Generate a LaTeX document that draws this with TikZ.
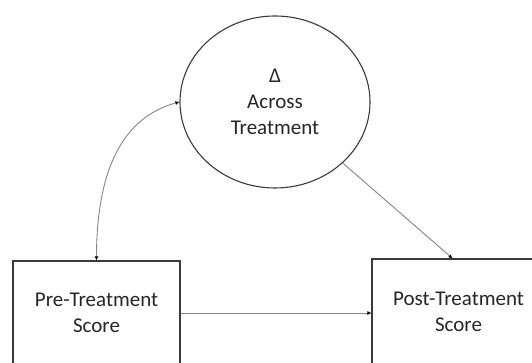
\documentclass[tikz,border=0pt]{standalone}
\usepackage{fontspec}
\setmainfont{Carlito}
\usetikzlibrary{arrows.meta,shapes.geometric}
\definecolor{edge}{HTML}{3A3A3A}
\definecolor{conn}{HTML}{858585}
\definecolor{txt}{HTML}{262626}
\tikzset{
  boxnode/.style={draw=edge,line width=1.1pt,rectangle,align=center,text=txt,font=\fontsize{21}{26}\selectfont,inner sep=0pt},
  ellnode/.style={draw=edge,line width=1.1pt,ellipse,align=center,text=txt,font=\fontsize{21}{26}\selectfont,inner sep=0pt},
  conn/.style={draw=conn,line width=0.9pt,-{Latex[length=4pt,width=4pt,black]}},
  bicon/.style={draw=conn,line width=0.9pt,{Latex[length=4pt,width=4pt,black]}-{Latex[length=4pt,width=4pt,black]}}
}
\begin{document}
\begin{tikzpicture}[x=1pt,y=1pt]
\useasboundingbox (0,0) rectangle (532,363);
\node[ellnode,minimum width=190pt,minimum height=172pt] (delta) at (275,261) {Δ\\Across\\Treatment};
\node[boxnode,minimum width=167pt,minimum height=104pt] (pre) at (96.5,50) {Pre-Treatment\\Score};
\node[boxnode,minimum width=173pt,minimum height=106pt] (post) at (458.5,51) {Post-Treatment\\Score};
\draw[conn] (pre.east) -- (post.west |- pre.east);
\draw[conn] (delta.-42) -- ([xshift=-6pt]post.north);
\draw[bicon] (pre.north) to[out=90,in=195] (delta.west);
\end{tikzpicture}
\end{document}
